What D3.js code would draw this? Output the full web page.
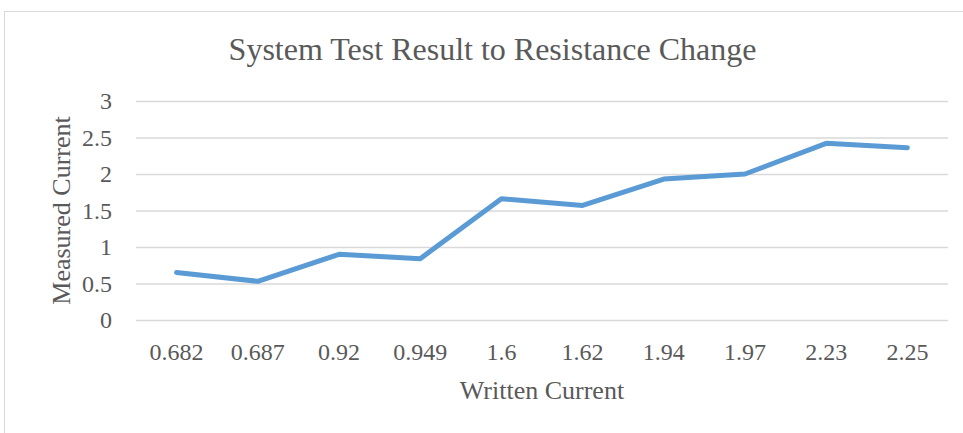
<!DOCTYPE html>
<html>
<head>
<meta charset="utf-8">
<script src="https://cdn.jsdelivr.net/npm/d3@7"></script>
<style>
  body { margin: 0; background: #fff; }
  text { font-family: "Liberation Serif", "Times New Roman", serif; fill: #595959; }
</style>
</head>
<body>
<div id="chart"></div>
<script>
// chart values
var categories = ["0.682", "0.687", "0.92", "0.949", "1.6", "1.62", "1.94", "1.97", "2.23", "2.25"];
var measured = [0.65, 0.53, 0.9, 0.84, 1.66, 1.57, 1.93, 2.0, 2.42, 2.36];
var yTicks = [0, 0.5, 1, 1.5, 2, 2.5, 3];

var width = 963, height = 433;
var plotLeft = 136, plotRight = 948, plotTop = 101, plotBottom = 320;

var svg = d3.select("#chart")
	.append("svg")
		.attr("width", width)
		.attr("height", height);

// chart area border
svg.append("rect")
	.attr("x", 4.5)
	.attr("y", 11.5)
	.attr("width", width + 10)
	.attr("height", height + 10)
	.attr("fill", "none")
	.attr("stroke", "#d9d9d9")
	.attr("stroke-width", 1);

var x = d3.scaleBand()
	.domain(categories)
	.range([plotLeft, plotRight]);

var y = d3.scaleLinear()
	.domain([0, 3])
	.range([plotBottom, plotTop]);

// gridlines + y labels
var yAxis = svg.append("g")
	.attr("transform", "translate(" + plotLeft + ",0)")
	.call(d3.axisLeft(y).tickValues(yTicks).tickSize(-(plotRight - plotLeft)).tickPadding(24).tickFormat(d3.format("")));

yAxis.select(".domain").remove();
yAxis.selectAll(".tick line")
	.attr("stroke", "#d9d9d9")
	.attr("stroke-width", 1.5);
yAxis.selectAll(".tick text")
	.style("font-size", "24px")
	.attr("fill", "#595959");

// x labels
var xAxis = svg.append("g")
	.attr("transform", "translate(0," + plotBottom + ")")
	.call(d3.axisBottom(x).tickSize(0).tickPadding(23));

xAxis.select(".domain").remove();
xAxis.selectAll(".tick text")
	.style("font-size", "24px")
	.attr("fill", "#595959");

// line
var line = d3.line()
	.x((d, i) => x(categories[i]) + x.bandwidth() / 2)
	.y(d => y(d));

svg.append("path")
	.datum(measured)
	.attr("d", line)
	.attr("fill", "none")
	.attr("stroke", "#5b9bd5")
	.attr("stroke-width", 5)
	.attr("stroke-linejoin", "round")
	.attr("stroke-linecap", "round");

// titles
svg.append("text")
	.attr("x", (230 + 755) / 2)
	.attr("y", 60)
	.attr("text-anchor", "middle")
	.style("font-size", "32px")
	.text("System Test Result to Resistance Change");

svg.append("text")
	.attr("x", (plotLeft + plotRight) / 2)
	.attr("y", 399)
	.attr("text-anchor", "middle")
	.style("font-size", "26px")
	.text("Written Current");

svg.append("text")
	.attr("transform", "translate(70," + (plotTop + plotBottom) / 2 + ") rotate(-90)")
	.attr("text-anchor", "middle")
	.style("font-size", "26px")
	.text("Measured Current");
</script>
</body>
</html>
